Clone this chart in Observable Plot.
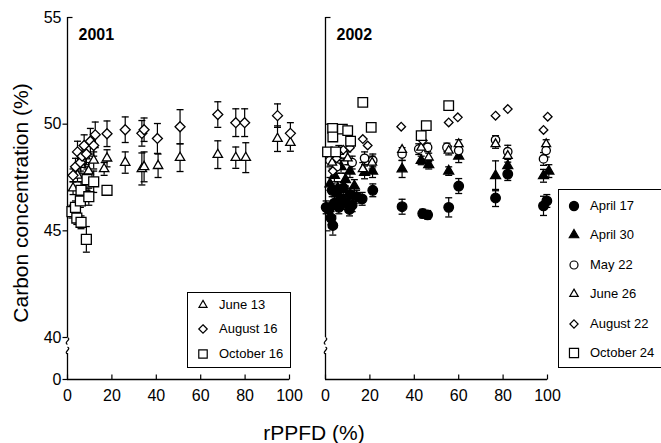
<!DOCTYPE html>
<html><head><meta charset="utf-8">
<script src="https://cdn.jsdelivr.net/npm/d3@7"></script>
<script src="https://cdn.jsdelivr.net/npm/@observablehq/plot@0.6"></script>
<style>
body{margin:0;background:#fff;}
#wrap{position:relative;width:661px;height:443px;font-family:"Liberation Sans",Arial,sans-serif;color:#000;overflow:hidden;}
#wrap svg.plot{position:absolute;left:0;top:0;}
.lab{position:absolute;font-size:21px;white-space:nowrap;line-height:1;}
.legend{position:absolute;border:1.3px solid #000;background:#fff;box-sizing:border-box;}
.row{position:absolute;left:0;height:16px;font-size:13px;line-height:16px;white-space:nowrap;}
.row svg{position:absolute;left:7px;top:0;}
.row span{position:absolute;left:31px;top:0;}
</style></head><body><div id="wrap"></div>
<script>
// ---------- data ----------
const years = ["2001", "2002"];
const xTicks = [0, 20, 40, 60, 80, 100];
const yTicks = [0, 40, 45, 50, 55];
const dates2001 = ["June 13", "August 16", "October 16"];
const dates2002 = ["April 17", "April 30", "May 22", "June 26", "August 22", "October 24"];

// [rPPFD %, carbon %, error]
const jun13_2001 = [[2.5,47.0,0.3],[4.5,47.6,0.3],[6,48.1,0.4],[8,48.5,0.5],[9.5,47.8,0.4],[11.8,48.3,0.4],[16.5,47.9,0.3],[17.8,48.4,0.4],[26,48.2,0.5],[33.5,47.9,0.75],[34.5,48.0,0.7],[40.8,48.05,0.55],[50.7,48.43,0.65],[67.7,48.57,0.65],[75.8,48.43,0.5],[80.3,48.43,0.7],[94.6,49.32,0.6],[100.4,49.13,0.4]];
const aug16_2001 = [[2.5,47.6,0.3],[3.6,48.0,0.4],[4.5,48.7,0.5],[5.8,48.2,0.4],[6.6,48.5,0.5],[7.5,49.0,0.5],[8.5,48.6,0.5],[10.3,49.2,0.6],[11.8,49.0,0.5],[12.5,49.5,0.6],[17.8,49.55,0.6],[26,49.74,0.6],[33.5,49.57,0.6],[34.5,49.74,0.55],[40.5,49.33,0.7],[50.7,49.88,0.8],[67.7,50.45,0.6],[75.8,50.07,0.65],[79.8,50.07,0.65],[94.6,50.4,0.55],[100.4,49.57,0.5]];
const oct16_2001 = [[2,45.9,0.3],[3.6,46.1,0.3],[4.2,45.6,0.3],[5.8,46.4,0.3],[6.1,46.9,0.4],[6.1,45.4,0.3],[8.5,44.6,0.6],[8.8,47.4,0.5],[9.6,46.6,0.4],[11.8,47.3,0.5],[17.8,46.9,0]];

const apr17_2002 = [[0.3,46.1,0.3],[1.5,46.0,0.3],[2.5,45.6,0.3],[3,46.9,0.3],[3.3,45.25,0.45],[4,46.3,0.3],[5,46.8,0.3],[6,46.1,0.3],[7,46.5,0.3],[8,47.0,0.3],[9,46.3,0.3],[10.8,46.0,0.3],[11,46.7,0.3],[12,46.2,0.3],[14,46.6,0.3],[16.5,46.5,0.3],[21.3,46.9,0.3],[34.5,46.13,0.35],[43.8,45.81,0.2],[46,45.75,0.2],[55.5,46.1,0.45],[60,47.1,0.35],[76.6,46.54,0.4],[82.1,47.66,0.3],[98.2,46.17,0.45],[99.7,46.4,0.3]];
const apr30_2002 = [[2,47.2,0.3],[4,47.6,0.3],[5.5,47.0,0.3],[7,48.0,0.3],[9,47.4,0.3],[11,47.8,0.3],[13,47.1,0.3],[17.6,47.74,0.3],[21.2,47.8,0.3],[34.5,47.9,0.4],[43.1,48.3,0.2],[46.5,48.1,0.2],[55.5,47.8,0.2],[60,48.5,0.3],[76.6,47.58,0.7],[82.1,48.05,0.3],[98.2,47.58,0.3],[100.6,47.8,0.3]];
const may22_2002 = [[2,48.3,0.3],[5,48.0,0.3],[8,48.6,0.3],[12,48.2,0.3],[17.6,48.4,0.3],[21.3,48.3,0.3],[34.5,48.6,0.3],[42,48.83,0.25],[46,48.91,0.2],[54.7,48.91,0.2],[60,48.76,0.3],[76.6,49.26,0.2],[82.1,48.71,0.3],[98.2,48.37,0.3],[99.4,48.76,0.3]];
const jun26_2002 = [[3,48.2,0.3],[6,48.7,0.3],[10,48.4,0.3],[16.8,47.9,0.3],[21,48.2,0.3],[34.5,48.8,0],[43.1,48.9,0],[46.5,48.44,0.2],[55.5,48.76,0.2],[60,49.07,0.2],[76.6,49.07,0.2],[82.1,48.52,0.3],[99.4,49.07,0.2]];
const aug22_2002 = [[3.3,47.8,0],[5,48.4,0],[8,48.8,0],[11,48.9,0],[16.8,49.3,0],[19,49.0,0],[34.1,49.88,0],[43.8,49.23,0],[55.5,50.08,0],[59.6,50.32,0],[76.6,50.4,0],[82.1,50.71,0],[98.2,49.73,0],[100.1,50.35,0]];
const oct24_2002 = [[0.9,48.7,0],[3.2,49.8,0],[3.3,49.4,0],[4.6,48.7,0],[7.6,49.77,0],[10,49.7,0],[11.3,49.2,0],[16.8,51.02,0],[20.6,49.85,0],[43.1,49.46,0],[45.4,49.93,0],[55.5,50.87,0]];

const values2001 = [jun13_2001, aug16_2001, oct16_2001];
const values2002 = [apr17_2002, apr30_2002, may22_2002, jun26_2002, aug22_2002, oct24_2002];

// ---------- styles ----------
const style2001 = [
  {symbol: "triangle", r: 3.5, fill: "white"},
  {symbol: "diamond2", r: 4.5, fill: "white"},
  {symbol: "square", r: 5.6, fill: "white"}
];
const style2002 = [
  {symbol: "circle", r: 4.8, fill: "black"},
  {symbol: "triangle", r: 3.7, fill: "black"},
  {symbol: "circle", r: 4.2, fill: "white"},
  {symbol: "triangle", r: 3.3, fill: "white"},
  {symbol: "diamond2", r: 3.9, fill: "white"},
  {symbol: "square", r: 5.4, fill: "white"}
];

const series = [];
dates2001.forEach((d, i) => series.push({year: "2001", style: style2001[i],
  rows: values2001[i].map(([x, y, e]) => ({year: "2001", date: d, x, y, e}))}));
dates2002.forEach((d, i) => series.push({year: "2002", style: style2002[i],
  rows: values2002[i].map(([x, y, e]) => ({year: "2002", date: d, x, y, e}))}));
const allRows = series.flatMap(s => s.rows);
const errRows = allRows.filter(d => d.e > 0);

// custom glyphs
const capSym = {draw(c){ c.moveTo(-3.5, 0); c.lineTo(3.5, 0); }};
const tickUp = {draw(c){ c.moveTo(0, 0); c.lineTo(0, -5); }};
const tickOut = {draw(c){ c.moveTo(0, 0); c.lineTo(-5, 0); }};
const tickIn = {draw(c){ c.moveTo(0, 0); c.lineTo(5, 0); }};
const breakSym = {draw(c){ c.moveTo(0, -3.4); c.bezierCurveTo(4.5, -1.5, -4.5, 1.5, 0, 3.4); }};

// axis construction (broken y axis)
const axisSegments = years.flatMap(year => [{year, y1: 40, y2: 55}, {year, y1: 0, y2: 24.8}]);
const breakMarks = [36.7, 27.6];
const yTickRows = [
  ...[0, 40, 45, 50].map(v => ({year: "2001", v, sym: tickOut})),
  {year: "2001", v: 55, sym: tickIn},
  ...[45, 50, 55].map(v => ({year: "2002", v, sym: tickIn}))
];

const marks = [
  Plot.ruleX(axisSegments, {fx: "year", x: () => 0, y1: "y1", y2: "y2", stroke: "black", strokeWidth: 1.3}),
  Plot.dot(breakMarks, {x: () => 0, y: d => d, symbol: breakSym, fill: "none", stroke: "black", strokeWidth: 1.2}),
  Plot.ruleY([0], {stroke: "black", strokeWidth: 1.3}),
  Plot.dot(xTicks, {x: d => d, y: () => 0, symbol: tickUp, fill: "none", stroke: "black", strokeWidth: 1.2}),
  ...[tickOut, tickIn].map(sym => Plot.dot(yTickRows.filter(d => d.sym === sym), {fx: "year", x: () => 0, y: "v", symbol: sym, fill: "none", stroke: "black", strokeWidth: 1.2})),
  Plot.axisY({ticks: yTicks, tickSize: 0, tickPadding: 6, label: null}),
  Plot.axisX({ticks: xTicks, tickSize: 0, tickPadding: 10, label: null}),
  Plot.text(years, {fx: d => d, text: d => d, frameAnchor: "top-left", textAnchor: "start", lineAnchor: "top", dx: 11, dy: 11, fontWeight: "bold", fontSize: 16}),
  // error bars
  Plot.ruleX(errRows, {fx: "year", x: "x", y1: d => d.y - d.e, y2: d => d.y + d.e, stroke: "black", strokeWidth: 1.2}),
  Plot.dot(errRows, {fx: "year", x: "x", y: d => d.y - d.e, symbol: capSym, fill: "none", stroke: "black", strokeWidth: 1.3}),
  Plot.dot(errRows, {fx: "year", x: "x", y: d => d.y + d.e, symbol: capSym, fill: "none", stroke: "black", strokeWidth: 1.3}),
  // markers
  ...series.map(s => Plot.dot(s.rows, {fx: "year", x: "x", y: "y", symbol: s.style.symbol, r: s.style.r,
      fill: s.style.fill, stroke: "black", strokeWidth: 1.3}))
];

const chart = Plot.plot({
  width: 661, height: 443,
  marginLeft: 67, marginRight: 113, marginTop: 17, marginBottom: 64,
  style: {fontFamily: "'Liberation Sans', Arial, sans-serif", fontSize: "16px", background: "white", color: "black", overflow: "visible"},
  fx: {domain: years, axis: null, label: null, paddingInner: 0.139, paddingOuter: 0},
  x: {domain: [0, 100], label: null},
  y: {type: "linear", domain: [0, 40, 55], range: [379, 337, 17], label: null},
  marks
});
chart.classList.add("plot");
const wrap = document.getElementById("wrap");
wrap.appendChild(chart);

// axis titles
const yl = document.createElement("div");
yl.className = "lab";
yl.textContent = "Carbon concentration (%)";
yl.style.cssText = "left:20px;top:203px;transform:translate(-50%,-50%) rotate(-90deg);";
wrap.appendChild(yl);
const xl = document.createElement("div");
xl.className = "lab";
xl.textContent = "rPPFD (%)";
xl.style.cssText = "left:314px;top:432px;transform:translate(-50%,-50%);";
wrap.appendChild(xl);

// legends
const symTypes = {triangle: d3.symbolTriangle, diamond2: d3.symbolDiamond2, square: d3.symbolSquare, circle: d3.symbolCircle};
function legend(names, styles, box, first, step, scale) {
  const div = document.createElement("div");
  div.className = "legend";
  div.style.cssText = `left:${box[0]}px;top:${box[1]}px;width:${box[2]}px;height:${box[3]}px;`;
  names.forEach((n, i) => {
    const st = styles[i];
    const r = st.r * scale;
    const path = d3.symbol(symTypes[st.symbol], Math.PI * r * r)();
    const row = document.createElement("div");
    row.className = "row";
    row.style.top = (first + i * step - 8) + "px";
    row.innerHTML = `<svg width="16" height="16" viewBox="-8 -8 16 16"><path d="${path}" fill="${st.fill}" stroke="black" stroke-width="1.2"/></svg><span>${n}</span>`;
    div.appendChild(row);
  });
  wrap.appendChild(div);
}
legend(dates2001, style2001, [187, 292, 104, 76], 12, 24.3, 0.85);
legend(dates2002, style2002, [558, 189, 104, 179], 16, 29.4, 0.95);
</script></body></html>
